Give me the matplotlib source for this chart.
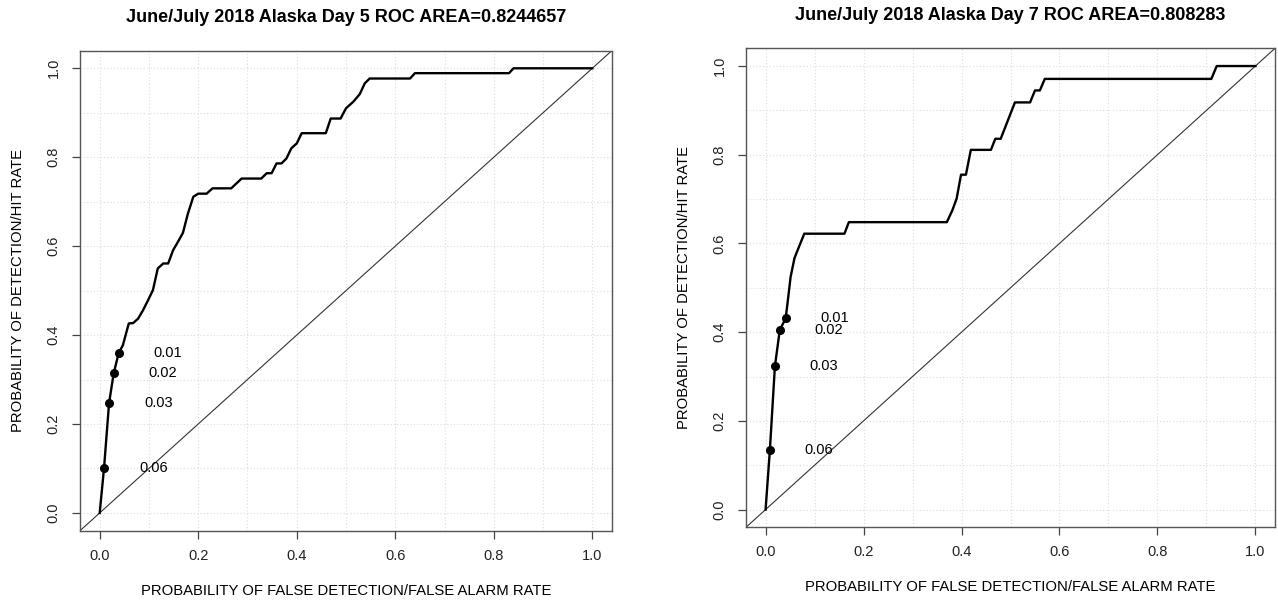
import numpy as np
import matplotlib.pyplot as plt

plt.rcParams['font.family'] = ['Liberation Sans', 'DejaVu Sans']

# Day 5 ROC curve (false alarm rate, hit rate)
far5 = [0.0, 0.0088, 0.019, 0.0284, 0.0386, 0.047, 0.059, 0.068, 0.078, 0.088,
        0.098, 0.108, 0.118, 0.129, 0.139, 0.149, 0.159, 0.169, 0.179, 0.190,
        0.200, 0.217, 0.229, 0.267, 0.288, 0.328, 0.339, 0.349, 0.359, 0.369,
        0.379, 0.389, 0.400, 0.410, 0.459, 0.469, 0.489, 0.500, 0.515, 0.528,
        0.538, 0.548, 0.630, 0.640, 0.831, 0.840, 1.0]
pod5 = [0.0, 0.101, 0.247, 0.314, 0.360, 0.377, 0.426, 0.427, 0.437, 0.456,
        0.478, 0.501, 0.550, 0.561, 0.561, 0.591, 0.610, 0.630, 0.673, 0.711,
        0.718, 0.718, 0.730, 0.730, 0.752, 0.752, 0.764, 0.764, 0.786, 0.786,
        0.797, 0.820, 0.831, 0.854, 0.854, 0.887, 0.887, 0.910, 0.925, 0.942,
        0.966, 0.977, 0.977, 0.989, 0.989, 1.0, 1.0]

# Day 7 ROC curve
far7 = [0.0, 0.0088, 0.019, 0.029, 0.041, 0.047, 0.051, 0.059, 0.068, 0.079,
        0.161, 0.170, 0.370, 0.381, 0.390, 0.399, 0.409, 0.419, 0.460, 0.469,
        0.480, 0.509, 0.540, 0.550, 0.560, 0.570, 0.910, 0.921, 1.0]
pod7 = [0.0, 0.135, 0.323, 0.405, 0.431, 0.486, 0.524, 0.567, 0.592, 0.622,
        0.622, 0.648, 0.648, 0.674, 0.701, 0.755, 0.755, 0.811, 0.811, 0.836,
        0.836, 0.918, 0.918, 0.945, 0.945, 0.971, 0.971, 1.0, 1.0]

# threshold points
thresh = ["0.01", "0.02", "0.03", "0.06"]
far5_pts = [0.0386, 0.0284, 0.019, 0.0088]
pod5_pts = [0.360, 0.314, 0.247, 0.101]
far7_pts = [0.041, 0.029, 0.019, 0.0088]
pod7_pts = [0.431, 0.405, 0.323, 0.135]

titles = ["June/July 2018 Alaska Day 5 ROC AREA=0.8244657",
          "June/July 2018 Alaska Day 7 ROC AREA=0.808283"]
xlab = "PROBABILITY OF FALSE DETECTION/FALSE ALARM RATE"
ylab = "PROBABILITY OF DETECTION/HIT RATE"

W, H = 1278, 603
fig = plt.figure(figsize=(W / 100, H / 100), dpi=100)

# axes boxes in pixels: left, top, right, bottom
boxes = [(80, 50.5, 612, 530.7), (746, 48.3, 1275, 527.3)]
curves = [(far5, pod5, far5_pts, pod5_pts), (far7, pod7, far7_pts, pod7_pts)]

for i, (box, (fx, py, mx, my)) in enumerate(zip(boxes, curves)):
    l, t, r, b = box
    ax = fig.add_axes([l / W, 1 - b / H, (r - l) / W, (b - t) / H])
    ax.set_xlim(-0.04, 1.04)
    ax.set_ylim(-0.04, 1.04)

    # grid
    for g in np.arange(0, 1.01, 0.1):
        ax.axvline(g, color='#dcdcdc', lw=0.8, ls=(0, (1, 2)), zorder=0)
        ax.axhline(g, color='#dcdcdc', lw=0.8, ls=(0, (1, 2)), zorder=0)

    ax.plot([-0.04, 1.04], [-0.04, 1.04], color='#333333', lw=0.8)
    ax.plot(fx, py, color='black', lw=1.7)
    ax.plot(mx, my, 'o', color='black', ms=5.5)
    for xx, yy, lab in zip(mx, my, thresh):
        ax.text(xx + 0.1, yy, lab, ha='center', va='center', fontsize=10.5)

    ticks = [0.0, 0.2, 0.4, 0.6, 0.8, 1.0]
    ax.set_xticks(ticks)
    ax.set_yticks(ticks)
    ax.set_xticklabels([f"{v:.1f}" for v in ticks])
    ax.set_yticklabels([f"{v:.1f}" for v in ticks], rotation=90, va='center')
    ax.tick_params(direction='out', length=6, width=0.9, color='#444444',
                   labelsize=10.5, labelcolor='#222222')
    ax.tick_params(axis='x', pad=7)
    ax.tick_params(axis='y', pad=8)
    for s in ax.spines.values():
        s.set_color('#555555')
        s.set_linewidth(1.0)

    cx = (l + r) / 2 / W
    fig.text(cx, 1 - (t - 33) / H, titles[i], ha='center', va='center',
             fontsize=13, fontweight='bold')
    fig.text(cx, 1 - (b + 60) / H, xlab, ha='center', va='center', fontsize=10.7)
    fig.text((l - 62) / W, 1 - ((t + b) / 2) / H, ylab, ha='center',
             va='center', rotation=90, fontsize=10.7)

fig.savefig('out.png', dpi=100)
